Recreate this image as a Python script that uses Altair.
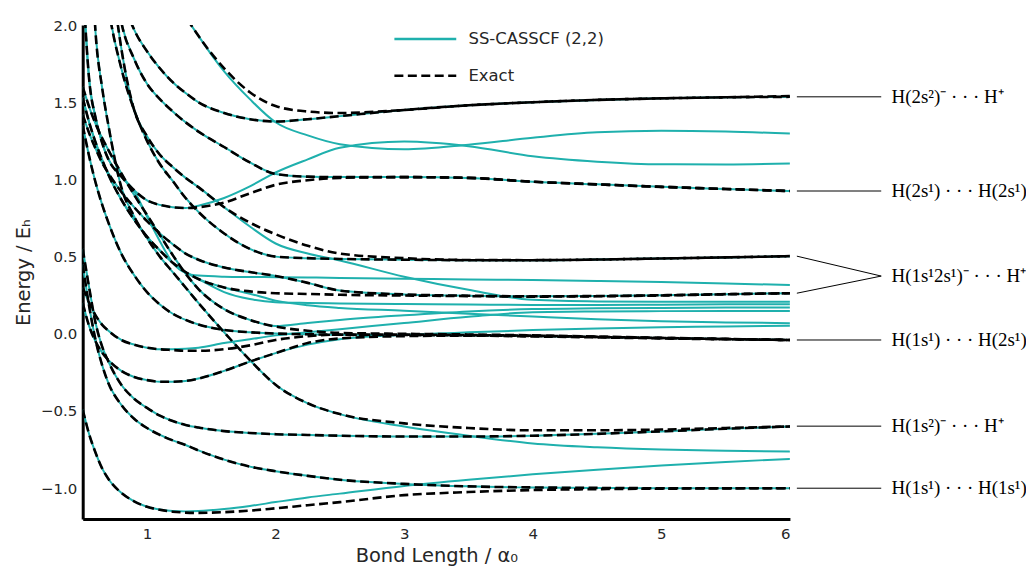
import altair as alt
import pandas as pd

# Bond-length grid shared by all curves (bohr)
R = [0.5, 0.55, 0.6, 0.65, 0.7, 0.8, 0.9, 1.0, 1.1, 1.2, 1.3, 1.4, 1.6, 1.8,
     2.0, 2.25, 2.5, 3.0, 3.5, 4.0, 4.5, 5.0, 5.5, 6.0]

# ---- Exact curves (Hartree) ----
EX_GROUND = [-0.49, -0.65, -0.77, -0.87, -0.94, -1.03, -1.085, -1.12, -1.14, -1.152, -1.158, -1.16,
             -1.155, -1.145, -1.13, -1.11, -1.09, -1.045, -1.025, -1.012, -1.006, -1.003, -1.001, -1.0]
EX_TRIP = [0.45, 0.18, -0.04, -0.2, -0.32, -0.46, -0.55, -0.61, -0.655, -0.69, -0.72, -0.755,
           -0.815, -0.86, -0.89, -0.92, -0.945, -0.972, -0.988, -0.995, -0.998, -1.0, -1.0, -1.0]
EX_ION_A = [0.55, 0.3, 0.07, -0.08, -0.18, -0.33, -0.42, -0.48, -0.53, -0.565, -0.59, -0.607,
            -0.63, -0.642, -0.65, -0.655, -0.66, -0.665, -0.665, -0.66, -0.648, -0.632, -0.615, -0.60]
EX_ION_B = [3.5, 2.8, 1.95, 1.6, 1.35, 0.95, 0.76, 0.62, 0.5, 0.4, 0.3, 0.2,
            0.01, -0.17, -0.33, -0.45, -0.52, -0.58, -0.61, -0.625, -0.625, -0.62, -0.61, -0.60]
EX_W1 = [0.2, 0.05, -0.05, -0.12, -0.17, -0.24, -0.28, -0.3, -0.31, -0.31, -0.305, -0.29,
         -0.24, -0.18, -0.125, -0.06, -0.03, -0.015, -0.012, -0.017, -0.023, -0.03, -0.035, -0.04]
EX_W2 = [0.3, 0.2, 0.12, 0.06, 0.02, -0.04, -0.07, -0.09, -0.1, -0.105, -0.11, -0.11,
         -0.1, -0.075, -0.04, -0.015, -0.005, -0.005, -0.008, -0.012, -0.02, -0.027, -0.034, -0.04]
EX_W3 = [1.6, 1.47, 1.36, 1.27, 1.19, 1.04, 0.9, 0.77, 0.64, 0.51, 0.39, 0.29,
         0.16, 0.09, 0.047, 0.02, 0.006, 0.0, -0.004, -0.01, -0.018, -0.026, -0.033, -0.04]
EX_W4 = [1.35, 1.15, 0.98, 0.84, 0.72, 0.52, 0.38, 0.27, 0.19, 0.13, 0.09, 0.06,
         0.025, 0.01, 0.002, -0.003, -0.006, -0.008, -0.01, -0.014, -0.02, -0.027, -0.034, -0.04]
EX_I1 = [1.53, 1.37, 1.24, 1.13, 1.03, 0.87, 0.74, 0.63, 0.54, 0.46, 0.40, 0.355,
         0.3, 0.275, 0.263, 0.258, 0.253, 0.248, 0.244, 0.241, 0.243, 0.248, 0.256, 0.263]
EX_I2 = [1.42, 1.3, 1.2, 1.11, 1.04, 0.92, 0.82, 0.73, 0.65, 0.58, 0.52, 0.48,
         0.43, 0.40, 0.375, 0.33, 0.28, 0.255, 0.247, 0.243, 0.245, 0.25, 0.257, 0.263]
EX_S1 = [3.5, 3.1, 2.8, 2.45, 2.12, 1.72, 1.45, 1.25, 1.1, 0.99, 0.88, 0.79,
         0.65, 0.55, 0.5, 0.49, 0.485, 0.48, 0.477, 0.477, 0.481, 0.488, 0.495, 0.503]
EX_S2 = [4.0, 3.6, 3.2, 2.9, 2.5, 1.85, 1.45, 1.28, 1.16, 1.08, 1.01, 0.95,
         0.82, 0.72, 0.645, 0.57, 0.52, 0.49, 0.478, 0.477, 0.481, 0.488, 0.495, 0.503]
EX_M1 = [2.3, 1.65, 1.4, 1.24, 1.13, 1.02, 0.93, 0.865, 0.835, 0.82, 0.815, 0.82,
         0.85, 0.91, 0.965, 0.995, 1.01, 1.015, 1.01, 0.985, 0.968, 0.952, 0.938, 0.925]
EX_M2 = [4.0, 3.6, 3.2, 2.9, 2.6, 2.02, 1.78, 1.62, 1.52, 1.44, 1.37, 1.31,
         1.21, 1.11, 1.035, 1.018, 1.015, 1.015, 1.01, 0.985, 0.968, 0.952, 0.938, 0.925]
EX_U1 = [4.0, 3.6, 3.2, 2.9, 2.6, 2.2, 1.97, 1.83, 1.72, 1.63, 1.56, 1.5,
         1.43, 1.39, 1.375, 1.39, 1.41, 1.45, 1.48, 1.5, 1.515, 1.525, 1.532, 1.535]
EX_U2 = [5.0, 4.8, 4.6, 4.4, 4.2, 3.6, 3.2, 2.8, 2.5, 2.25, 2.06, 1.93,
         1.72, 1.565, 1.475, 1.44, 1.43, 1.45, 1.48, 1.5, 1.515, 1.525, 1.532, 1.54]

# ---- SS-CASSCF(2,2) curves that leave the exact ones ----
CAS_GROUND = [-0.49, -0.65, -0.77, -0.87, -0.94, -1.03, -1.085, -1.12, -1.138, -1.148, -1.15, -1.148,
              -1.135, -1.115, -1.09, -1.06, -1.035, -0.985, -0.945, -0.91, -0.88, -0.853, -0.83, -0.81]
CAS_ION_B = [3.5, 2.8, 1.95, 1.6, 1.35, 0.95, 0.76, 0.62, 0.5, 0.4, 0.3, 0.2,
             0.01, -0.17, -0.33, -0.45, -0.52, -0.6, -0.66, -0.71, -0.735, -0.75, -0.758, -0.763]
CAS_W1 = [0.2, 0.05, -0.05, -0.12, -0.17, -0.24, -0.28, -0.3, -0.31, -0.31, -0.305, -0.29,
          -0.24, -0.18, -0.125, -0.07, -0.035, -0.008, 0.01, 0.024, 0.035, 0.043, 0.048, 0.052]
CAS_W2 = [0.3, 0.2, 0.12, 0.06, 0.02, -0.04, -0.07, -0.09, -0.1, -0.1, -0.097, -0.09,
          -0.06, -0.035, -0.01, 0.01, 0.03, 0.07, 0.11, 0.14, 0.145, 0.147, 0.148, 0.148]
CAS_W3 = [1.6, 1.47, 1.36, 1.27, 1.19, 1.04, 0.9, 0.77, 0.64, 0.51, 0.39, 0.29,
          0.16, 0.09, 0.05, 0.07, 0.09, 0.12, 0.145, 0.16, 0.165, 0.168, 0.17, 0.17]
CAS_I1 = [1.53, 1.37, 1.24, 1.13, 1.03, 0.87, 0.74, 0.63, 0.54, 0.46, 0.40, 0.355,
          0.3, 0.26, 0.215, 0.185, 0.168, 0.15, 0.13, 0.112, 0.095, 0.082, 0.074, 0.069]
CAS_I1B = [1.53, 1.37, 1.24, 1.13, 1.03, 0.87, 0.74, 0.63, 0.54, 0.46, 0.40, 0.355,
           0.27, 0.225, 0.205, 0.2, 0.197, 0.193, 0.19, 0.187, 0.187, 0.189, 0.191, 0.192]
CAS_S2 = [4.0, 3.6, 3.2, 2.9, 2.5, 1.85, 1.45, 1.28, 1.16, 1.08, 1.01, 0.95,
          0.82, 0.695, 0.585, 0.52, 0.475, 0.37, 0.285, 0.22, 0.21, 0.208, 0.208, 0.208]
CAS_X1 = [2.3, 1.65, 1.4, 1.24, 1.13, 1.02, 0.925, 0.76, 0.6, 0.46, 0.395, 0.377,
          0.37, 0.368, 0.367, 0.365, 0.362, 0.357, 0.352, 0.348, 0.342, 0.335, 0.326, 0.316]
CAS_M1 = [2.3, 1.65, 1.4, 1.24, 1.13, 1.02, 0.93, 0.865, 0.835, 0.82, 0.815, 0.83,
          0.88, 0.955, 1.045, 1.13, 1.205, 1.245, 1.215, 1.15, 1.115, 1.098, 1.097, 1.103]
CAS_U2 = [5.0, 4.8, 4.6, 4.4, 4.2, 3.6, 3.2, 2.8, 2.5, 2.25, 2.06, 1.93,
          1.7, 1.52, 1.37, 1.285, 1.228, 1.195, 1.225, 1.27, 1.305, 1.315, 1.31, 1.297]

EXACT = {
    "ground": EX_GROUND, "trip": EX_TRIP, "ionA": EX_ION_A, "ionB": EX_ION_B,
    "w1": EX_W1, "w2": EX_W2, "w3": EX_W3, "w4": EX_W4,
    "i1": EX_I1, "i2": EX_I2, "s1": EX_S1, "s2": EX_S2,
    "m1": EX_M1, "m2": EX_M2, "u1": EX_U1, "u2": EX_U2,
}
CASSCF = {
    "ground": CAS_GROUND, "trip": EX_TRIP, "ionA": EX_ION_A, "ionB": CAS_ION_B,
    "w1": CAS_W1, "w2": CAS_W2, "w3": CAS_W3, "w4": EX_W4,
    "i1": CAS_I1, "i1b": CAS_I1B, "i2": EX_I2, "s1": EX_S1, "s2": CAS_S2, "x1": CAS_X1,
    "m1": CAS_M1, "m2": EX_M2, "u1": EX_U1, "u2": CAS_U2,
}

CAS_NAME = "SS-CASSCF (2,2)"
EXACT_NAME = "Exact"
CYAN = "#1fb0ad"

# Right-hand asymptote labels
LABEL_TEXT = ["H(2s²)⁻ · · · H⁺", "H(2s¹) · · · H(2s¹)", "H(1s¹2s¹)⁻ · · · H⁺",
              "H(1s¹) · · · H(2s¹)", "H(1s²)⁻ · · · H⁺", "H(1s¹) · · · H(1s¹)"]
LABEL_E = [1.535, 0.925, 0.374, -0.04, -0.598, -1.0]
CONN_E0 = [1.535, 0.925, 0.503, 0.263, -0.04, -0.598, -1.0]
CONN_E1 = [1.535, 0.925, 0.374, 0.374, -0.04, -0.598, -1.0]
CONN_R0, CONN_R1, LABEL_R = 6.054, 6.71, 6.79

LEGEND_NAMES = [CAS_NAME, EXACT_NAME]
LEGEND_E = [1.91, 1.672]
LEGEND_R0, LEGEND_R1, LEGEND_TR = 2.924, 3.405, 3.50

rows = []
for name, vals in CASSCF.items():
    for r, e in zip(R, vals):
        rows.append({"R": r, "E": e, "curve": "c_" + name, "method": CAS_NAME})
cas_df = pd.DataFrame(rows)
rows = []
for name, vals in EXACT.items():
    for r, e in zip(R, vals):
        rows.append({"R": r, "E": e, "curve": "e_" + name, "method": EXACT_NAME})
ex_df = pd.DataFrame(rows)

xscale = alt.Scale(domain=[0.5, 6], nice=False, zero=False)
yscale = alt.Scale(domain=[-1.2, 2.0], nice=False, zero=False)

xaxis = alt.Axis(values=[1, 2, 3, 4, 5, 6], format="d", title="Bond Length / α₀",
                 grid=False, ticks=False, domainWidth=3, domainColor="black",
                 labelFontSize=15, labelColor="#262626", labelFont="DejaVu Sans",
                 labelPadding=7, titleFont="DejaVu Sans", titleFontSize=19.5,
                 titleFontWeight="normal", titleColor="#262626", titlePadding=6)
yaxis = alt.Axis(values=[-1.0, -0.5, 0.0, 0.5, 1.0, 1.5, 2.0], format=".1f", title="Energy / Eₕ",
                 grid=False, ticks=False, domainWidth=3, domainColor="black",
                 labelFontSize=15, labelColor="#262626", labelFont="DejaVu Sans",
                 labelPadding=6, titleFont="DejaVu Sans", titleFontSize=19.5,
                 titleFontWeight="normal", titleColor="#262626", titlePadding=7)

cas = alt.Chart(cas_df).mark_line(clip=True, strokeWidth=2, color=CYAN, interpolate="monotone").encode(
    x=alt.X("R:Q", scale=xscale, axis=xaxis),
    y=alt.Y("E:Q", scale=yscale, axis=yaxis),
    detail="curve:N",
)
ex = alt.Chart(ex_df).mark_line(clip=True, strokeWidth=2.6, color="black", strokeDash=[9, 4.5],
                                interpolate="monotone").encode(
    x="R:Q", y="E:Q", detail="curve:N",
)

conn_df = pd.DataFrame({"r0": [CONN_R0] * len(CONN_E0), "r1": [CONN_R1] * len(CONN_E0),
                        "e0": CONN_E0, "e1": CONN_E1})
conn = alt.Chart(conn_df).mark_rule(clip=False, color="black", strokeWidth=1).encode(
    x="r0:Q", x2="r1:Q", y="e0:Q", y2="e1:Q")
lab_df = pd.DataFrame({"r": [LABEL_R] * len(LABEL_TEXT), "e": LABEL_E, "t": LABEL_TEXT})
labels = alt.Chart(lab_df).mark_text(clip=False, align="left", baseline="middle",
                                     font="Liberation Serif", fontSize=19, color="black").encode(
    x="r:Q", y="e:Q", text="t:N")

leg_df = pd.DataFrame({"r0": [LEGEND_R0] * 2, "r1": [LEGEND_R1] * 2, "rt": [LEGEND_TR] * 2,
                       "e": LEGEND_E, "name": LEGEND_NAMES})
leg_cas = alt.Chart(leg_df[leg_df.name == CAS_NAME]).mark_rule(color=CYAN, strokeWidth=2.5).encode(
    x="r0:Q", x2="r1:Q", y="e:Q")
leg_ex = alt.Chart(leg_df[leg_df.name == EXACT_NAME]).mark_rule(color="black", strokeWidth=2.5,
                                                               strokeDash=[9, 4.5]).encode(
    x="r0:Q", x2="r1:Q", y="e:Q")
leg_txt = alt.Chart(leg_df).mark_text(align="left", baseline="middle", font="DejaVu Sans",
                                      fontSize=16.5, color="#262626").encode(
    x="rt:Q", y="e:Q", text="name:N")

chart = alt.layer(cas, ex, conn, labels, leg_cas, leg_ex, leg_txt).properties(
    width=710, height=496,
    padding={"left": 75, "top": 16, "right": 237, "bottom": 48},
    autosize=alt.AutoSizeParams(type="none"),
).configure(background="white").configure_view(stroke=None)

chart.save("out.html", embed_options={"renderer": "svg", "actions": False})
